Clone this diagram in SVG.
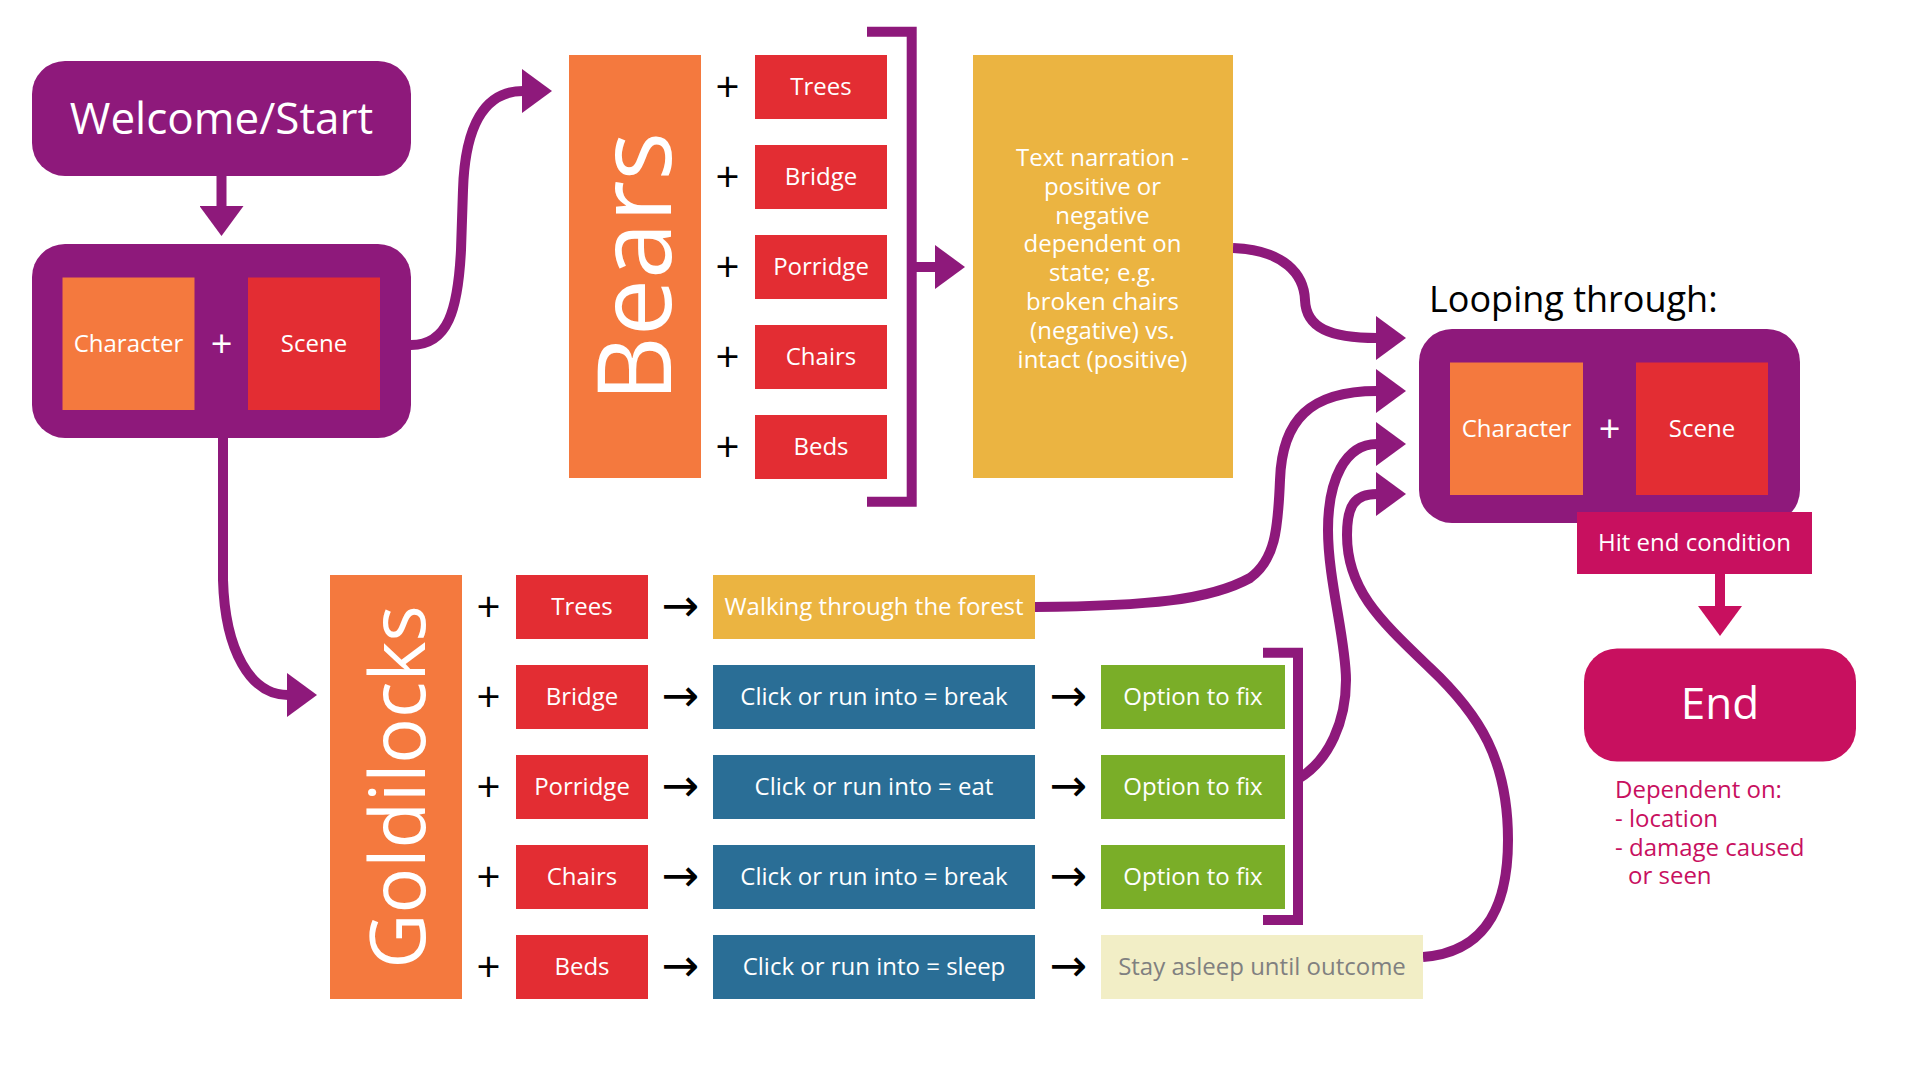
<svg xmlns="http://www.w3.org/2000/svg" width="1920" height="1080" viewBox="0 0 1920 1080">
<style>
text{font-family:"Open Sans","Liberation Sans",sans-serif;}
.w{fill:#ffffff;font-size:24px;text-anchor:middle;}
.big{fill:#ffffff;font-size:44px;text-anchor:middle;}
.pl{fill:#000000;font-size:42px;text-anchor:middle;}
.ar{fill:#000000;font-size:45px;text-anchor:middle;font-family:"DejaVu Sans",sans-serif;}
.pur{fill:#8E197B;}
.org{fill:#F4793E;}
.red{fill:#E32D33;}
.yel{fill:#EBB441;}
.blu{fill:#2A6E96;}
.grn{fill:#7AAE28;}
.pal{fill:#F2EEC6;}
.mag{fill:#C8105F;}
.con{fill:none;stroke:#8E197B;stroke-width:10;}
.mcon{fill:none;stroke:#C8105F;stroke-width:10;}
.dep{fill:#C8105F;font-size:24px;}
</style>
<defs>
<marker id="ah" viewBox="0 0 30 44" markerWidth="30" markerHeight="44" markerUnits="userSpaceOnUse" refX="1" refY="22" orient="auto">
<path d="M0,0 L30,22 L0,44 Z" fill="#8E197B"/>
</marker>
<marker id="mah" viewBox="0 0 30 44" markerWidth="30" markerHeight="44" markerUnits="userSpaceOnUse" refX="1" refY="22" orient="auto">
<path d="M0,0 L30,22 L0,44 Z" fill="#C8105F"/>
</marker>
</defs>
<rect width="1920" height="1080" fill="#ffffff"/>

<g id="connectors">
<path class="con" d="M221.5,175 L221.5,207" marker-end="url(#ah)"/>
<path class="con" d="M411,345 C448,345 458,310 461,250 L463,190 C465,125 485,91 523,91" marker-end="url(#ah)"/>
<path class="con" d="M223,437 L223,580 C225,650 250,695 288,695" marker-end="url(#ah)"/>
<path class="con" d="M867,31.7 L911.7,31.7 L911.7,501.7 L867,501.7"/>
<path class="con" d="M911,267 L936,267" marker-end="url(#ah)"/>
<path class="con" d="M1233,248 C1285,250 1304,275 1305,300 C1306,328 1330,338 1377,338" marker-end="url(#ah)"/>
<path class="con" d="M1035,607 C1150,606 1210,600 1250,578 C1275,560 1278,530 1280,480 C1282,420 1310,391 1377,391" marker-end="url(#ah)"/>
<path class="con" d="M1263,652.7 L1298,652.7 L1298,920 L1263,920"/>
<path class="con" d="M1298,779 C1330,760 1346,720 1346,680 C1346,640 1328,580 1328,530 C1328,480 1345,444 1377,444" marker-end="url(#ah)"/>
<path class="con" d="M1423,957 C1490,952 1508,900 1508,840 C1508,760 1480,715 1430,668 C1380,620 1347,590 1347,535 C1347,505 1355,494 1377,494" marker-end="url(#ah)"/>
<path class="mcon" d="M1720,574 L1720,607" marker-end="url(#mah)"/>
</g>

<g id="welcome">
<rect class="pur" x="32" y="61" width="379" height="115" rx="33"/>
<text class="big" x="221.5" y="133.5">Welcome/Start</text>
</g>

<g id="start-pair">
<rect class="pur" x="32" y="244" width="379" height="194" rx="33"/>
<rect class="org" x="62.5" y="277.5" width="132" height="132.5"/>
<rect class="red" x="248" y="277.5" width="132" height="132.5"/>
<text class="w" x="128.5" y="352">Character</text>
<text class="w" x="221.5" y="357" style="font-size:38px">+</text>
<text class="w" x="314" y="352">Scene</text>
</g>

<g id="bears">
<rect class="org" x="569" y="55" width="132" height="423"/>
<text class="big" transform="translate(671,267) rotate(-90)" style="font-size:102px">Bears</text>
</g>

<g id="bears-items">
<text class="pl" x="727.5" y="102">+</text>
<text class="pl" x="727.5" y="192">+</text>
<text class="pl" x="727.5" y="282">+</text>
<text class="pl" x="727.5" y="372">+</text>
<text class="pl" x="727.5" y="462">+</text>
<rect class="red" x="755" y="55" width="132" height="64"/>
<rect class="red" x="755" y="145" width="132" height="64"/>
<rect class="red" x="755" y="235" width="132" height="64"/>
<rect class="red" x="755" y="325" width="132" height="64"/>
<rect class="red" x="755" y="415" width="132" height="64"/>
<text class="w" x="821" y="95">Trees</text>
<text class="w" x="821" y="185">Bridge</text>
<text class="w" x="821" y="275">Porridge</text>
<text class="w" x="821" y="365">Chairs</text>
<text class="w" x="821" y="455">Beds</text>
</g>

<g id="narration">
<rect class="yel" x="973" y="55" width="260" height="423"/>
<text class="w"><tspan x="1102.5" y="166">Text narration -</tspan><tspan x="1102.5" dy="28.8">positive or</tspan><tspan x="1102.5" dy="28.8">negative</tspan><tspan x="1102.5" dy="28.8">dependent on</tspan><tspan x="1102.5" dy="28.8">state; e.g.</tspan><tspan x="1102.5" dy="28.8">broken chairs</tspan><tspan x="1102.5" dy="28.8">(negative) vs.</tspan><tspan x="1102.5" dy="28.8">intact (positive)</tspan></text>
</g>

<g id="looping">
<text x="1429" y="311.5" style="font-size:36px;fill:#000000">Looping through:</text>
<rect class="pur" x="1419" y="329" width="381" height="194" rx="33"/>
<rect class="org" x="1450" y="362.5" width="133" height="132.5"/>
<rect class="red" x="1636" y="362.5" width="132" height="132.5"/>
<text class="w" x="1516.5" y="437">Character</text>
<text class="w" x="1609.5" y="442" style="font-size:38px">+</text>
<text class="w" x="1702" y="437">Scene</text>
</g>

<g id="hit-end">
<rect class="mag" x="1577" y="512" width="235" height="62"/>
<text class="w" x="1694.5" y="551">Hit end condition</text>
</g>

<g id="end">
<rect class="mag" x="1584" y="648.5" width="272" height="113" rx="33"/>
<text class="big" x="1720" y="719">End</text>
<text class="dep"><tspan x="1615" y="798">Dependent on:</tspan><tspan x="1615" dy="28.8">- location</tspan><tspan x="1615" dy="28.8">- damage caused</tspan><tspan x="1628" dy="28.8">or seen</tspan></text>
</g>

<g id="goldilocks">
<rect class="org" x="330" y="575" width="132" height="424"/>
<text class="big" transform="translate(425,787) rotate(-90)" style="font-size:76px">Goldilocks</text>
</g>

<g id="goldilocks-items">
<text class="pl" x="488.5" y="622">+</text>
<text class="pl" x="488.5" y="712">+</text>
<text class="pl" x="488.5" y="802">+</text>
<text class="pl" x="488.5" y="892">+</text>
<text class="pl" x="488.5" y="982">+</text>
<rect class="red" x="516" y="575" width="132" height="64"/>
<rect class="red" x="516" y="665" width="132" height="64"/>
<rect class="red" x="516" y="755" width="132" height="64"/>
<rect class="red" x="516" y="845" width="132" height="64"/>
<rect class="red" x="516" y="935" width="132" height="64"/>
<text class="w" x="582" y="615">Trees</text>
<text class="w" x="582" y="705">Bridge</text>
<text class="w" x="582" y="795">Porridge</text>
<text class="w" x="582" y="885">Chairs</text>
<text class="w" x="582" y="975">Beds</text>
<text class="ar" x="680" y="621">→</text>
<text class="ar" x="680" y="711">→</text>
<text class="ar" x="680" y="801">→</text>
<text class="ar" x="680" y="891">→</text>
<text class="ar" x="680" y="981">→</text>
<rect class="yel" x="713" y="575" width="322" height="64"/>
<rect class="blu" x="713" y="665" width="322" height="64"/>
<rect class="blu" x="713" y="755" width="322" height="64"/>
<rect class="blu" x="713" y="845" width="322" height="64"/>
<rect class="blu" x="713" y="935" width="322" height="64"/>
<text class="w" x="874" y="615">Walking through the forest</text>
<text class="w" x="874" y="705">Click or run into = break</text>
<text class="w" x="874" y="795">Click or run into = eat</text>
<text class="w" x="874" y="885">Click or run into = break</text>
<text class="w" x="874" y="975">Click or run into = sleep</text>
<text class="ar" x="1068" y="711">→</text>
<text class="ar" x="1068" y="801">→</text>
<text class="ar" x="1068" y="891">→</text>
<text class="ar" x="1068" y="981">→</text>
<rect class="grn" x="1101" y="665" width="184" height="64"/>
<rect class="grn" x="1101" y="755" width="184" height="64"/>
<rect class="grn" x="1101" y="845" width="184" height="64"/>
<rect class="pal" x="1101" y="935" width="322" height="64"/>
<text class="w" x="1193" y="705">Option to fix</text>
<text class="w" x="1193" y="795">Option to fix</text>
<text class="w" x="1193" y="885">Option to fix</text>
<text class="w" x="1262" y="975" style="fill:#808080">Stay asleep until outcome</text>
</g>
</svg>
